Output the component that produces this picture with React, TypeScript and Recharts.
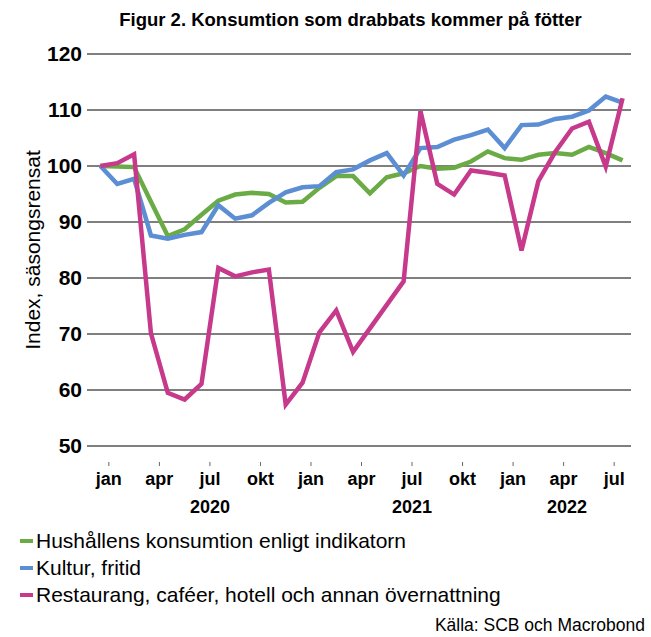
import React from 'react';
import { LineChart, Line, XAxis, YAxis, CartesianGrid, Legend } from 'recharts';

// Jan 2020 - Aug 2022, monthly
const periods = [
  '2020-01', '2020-02', '2020-03', '2020-04', '2020-05', '2020-06', '2020-07', '2020-08', '2020-09', '2020-10', '2020-11', '2020-12',
  '2021-01', '2021-02', '2021-03', '2021-04', '2021-05', '2021-06', '2021-07', '2021-08', '2021-09', '2021-10', '2021-11', '2021-12',
  '2022-01', '2022-02', '2022-03', '2022-04', '2022-05', '2022-06', '2022-07', '2022-08',
];

const monthNames = ['jan', 'feb', 'mar', 'apr', 'maj', 'jun', 'jul', 'aug', 'sep', 'okt', 'nov', 'dec'];

const hushall = [
  100, 99.9, 99.8, 93.6, 87.5, 88.7, 91.3, 93.8, 94.9, 95.2, 95.0, 93.5,
  93.6, 96.1, 98.2, 98.2, 95.1, 98.0, 98.7, 100.0, 99.5, 99.7, 100.8, 102.6,
  101.4, 101.1, 102.0, 102.3, 102.0, 103.4, 102.3, 101.0,
];

const kultur = [
  100, 96.8, 97.7, 87.6, 87.0, 87.7, 88.2, 93.0, 90.6, 91.2, 93.4, 95.3,
  96.2, 96.4, 98.9, 99.4, 101.0, 102.3, 98.3, 103.2, 103.4, 104.7, 105.5, 106.5,
  103.2, 107.3, 107.4, 108.4, 108.8, 109.9, 112.4, 111.3,
];

const restaurang = [
  100, 100.5, 102.1, 70.1, 59.5, 58.3, 61.1, 81.8, 80.3, 81.0, 81.5, 57.4,
  61.3, 70.3, 74.2, 66.8, 71.0, 75.2, 79.4, 109.8, 96.8, 94.9, 99.2, 98.8,
  98.3, 84.9, 97.3, 102.5, 106.7, 107.9, 99.9, 112.1,
];

const yTicks = [50, 60, 70, 80, 90, 100, 110, 120];

const seriesNames = [
  'Hushållens konsumtion enligt indikatorn',
  'Kultur, fritid',
  'Restaurang, caféer, hotell och annan övernattning',
];
const COLORS = ['#6aab45', '#5b8ed3', '#c6398b'];

const data = periods.map((p, i) => ({
  t: i,
  period: p,
  hushall: hushall[i],
  kultur: kultur[i],
  restaurang: restaurang[i],
}));

// quarterly ticks sit in the middle of the month
const monthTicks = periods
  .map((p, i) => ({ i, m: Number(p.slice(5)) - 1 }))
  .filter((d) => d.m % 3 === 0)
  .map((d) => d.i + 0.5);

// year label: under july for full years, else centred on the months shown
const years = Array.from(new Set(periods.map((p) => p.slice(0, 4))));
const yearTicks = years.map((y) => {
  const idx = periods.map((p, i) => (p.startsWith(y) ? i : -1)).filter((i) => i >= 0);
  if (idx.length === 12) return idx[6] + 0.5;
  return idx.reduce((a, b) => a + b, 0) / idx.length + 0.2;
});

const font = '"Liberation Sans", Arial, sans-serif';

const MonthTick = ({ x, y, payload }: any) => {
  const i = Math.floor(payload.value);
  const label = monthNames[Number(periods[i].slice(5)) - 1];
  return (
    <g>
      <line x1={x} x2={x} y1={y + 16} y2={y + 20} stroke="#666" strokeWidth={1} />
      <text x={x} y={y + 39} textAnchor="middle" fontSize={18} fontWeight="bold" fill="#000" fontFamily={font}>
        {label}
      </text>
    </g>
  );
};

const YearTick = ({ x, y, payload }: any) => {
  const k = yearTicks.indexOf(payload.value);
  return (
    <text x={x} y={y + 17} textAnchor="middle" fontSize={18} fontWeight="bold" fill="#000" fontFamily={font}>
      {years[k]}
    </text>
  );
};

const LegendContent = ({ payload }: any) => (
  <div style={{ fontFamily: font, fontSize: 21, color: '#000' }}>
    {(payload || []).map((entry: any, index: number) => (
      <div key={`item-${index}`} style={{ display: 'flex', alignItems: 'center', height: 27 }}>
        <span style={{ display: 'inline-block', width: 13, height: 4, background: entry.color, marginRight: 3 }} />
        <span>{entry.value}</span>
      </div>
    ))}
  </div>
);

export default function App() {
  return (
    <div style={{ position: 'absolute', left: 0, top: 0, width: 651, height: 637, background: '#fff', fontFamily: font }}>
      <div style={{ position: 'absolute', top: 9, left: 0, width: 651, textAlign: 'center', fontSize: 18.5, fontWeight: 'bold', paddingLeft: 50, boxSizing: 'border-box' }}>
        Figur 2. Konsumtion som drabbats kommer på fötter
      </div>
      <LineChart width={651} height={637} data={data} margin={{ top: 54, right: 20, left: 0, bottom: 111 }}>
        <CartesianGrid vertical={false} stroke="#000" strokeWidth={1.2} />
        <XAxis
          dataKey="t"
          type="number"
          domain={[-0.5, 31.5]}
          allowDataOverflow
          ticks={monthTicks}
          tick={<MonthTick />}
          tickSize={0}
          tickMargin={0}
          tickLine={false}
          axisLine={false}
          interval={0}
          height={50}
        />
        <XAxis
          xAxisId="year"
          dataKey="t"
          type="number"
          domain={[-0.5, 31.5]}
          allowDataOverflow
          ticks={yearTicks}
          tick={<YearTick />}
          tickSize={0}
          tickMargin={0}
          tickLine={false}
          axisLine={false}
          interval={0}
          height={30}
        />
        <YAxis
          domain={[50, 120]}
          ticks={yTicks}
          width={92}
          axisLine={false}
          tickLine={{ stroke: '#000' }}
          tickSize={5}
          tickMargin={5}
          tick={{ fontSize: 21, fontWeight: 'bold', fill: '#000', fontFamily: font }}
          label={{ value: 'Index, säsongsrensat', angle: -90, position: 'center', dx: -13, fontSize: 21, fill: '#000', fontFamily: font }}
        />
        <Legend
          content={<LegendContent />}
          layout="horizontal"
          verticalAlign="middle"
          align="center"
          wrapperStyle={{ left: 20, top: 527, width: 620, height: 85 }}
        />
        <Line type="linear" dataKey="hushall" name={seriesNames[0]} stroke={COLORS[0]} strokeWidth={4.5} dot={false} isAnimationActive={false} />
        <Line type="linear" dataKey="kultur" name={seriesNames[1]} stroke={COLORS[1]} strokeWidth={4.5} dot={false} isAnimationActive={false} />
        <Line type="linear" dataKey="restaurang" name={seriesNames[2]} stroke={COLORS[2]} strokeWidth={4.5} dot={false} isAnimationActive={false} />
      </LineChart>
      <div style={{ position: 'absolute', right: 6, top: 615, fontSize: 17.5, color: '#000' }}>
        Källa: SCB och Macrobond
      </div>
    </div>
  );
}
